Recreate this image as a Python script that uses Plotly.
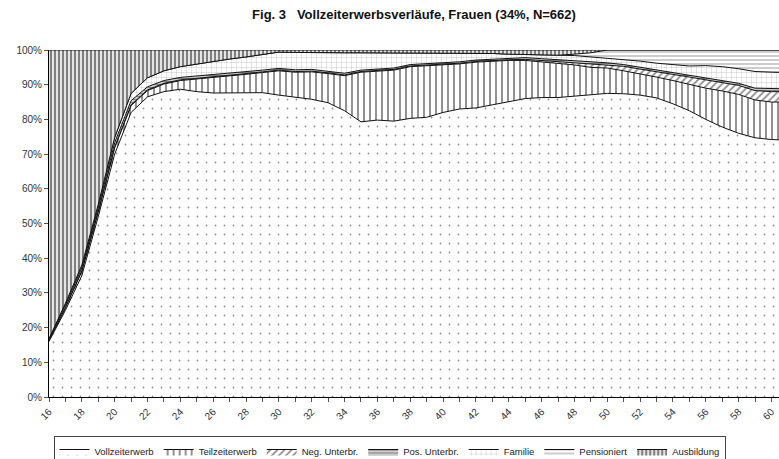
"""
Stacked 100% area chart: full-time employment careers, women.
"""

import plotly.graph_objects as go

ages = list(range(16, 62))

vollzeit = [16, 25, 35, 52, 70, 82, 86.5, 88, 88.7, 88, 87.6, 87.7, 87.6, 87.7, 87, 86.5,
            85.8, 84.8, 82.5, 79.3, 79.8, 79.5, 80.3, 80.6, 82, 83, 83.3, 84.2, 85.2, 86,
            86.3, 86.3, 86.7, 87.2, 87.5, 87.4, 87, 86.2, 84.5, 82.5, 80, 77.8, 76, 74.7,
            74.2, 74]
teilzeit = [0.3, 0.7, 1.2, 1.3, 1.8, 2.0, 1.8, 2.2, 2.5, 3.6, 4.4, 4.8, 5.4, 5.8, 7.0, 7.1,
            7.9, 8.4, 10.1, 14.3, 14.2, 14.7, 14.9, 14.9, 13.6, 13.0, 13.2, 12.6, 11.8, 11.0,
            10.3, 9.7, 9.0, 7.8, 7.3, 6.6, 6.2, 6.0, 6.7, 7.5, 9.0, 10.4, 11.2, 10.9, 10.8, 11.0]
neg_unterbr = [0, 0.1, 0.2, 0.2, 0.2, 0.2, 0.2, 0.2, 0.2, 0.2, 0.2, 0.2, 0.2, 0.2, 0.2, 0.2,
               0.2, 0.2, 0.2, 0.2, 0.2, 0.2, 0.2, 0.2, 0.2, 0.2, 0.2, 0.2, 0.2, 0.3,
               0.4, 0.6, 0.7, 0.9, 1.0, 1.3, 1.3, 1.6, 1.8, 2.2, 2.4, 2.5, 2.6, 2.7, 3.0, 3.0]
pos_unterbr = [0.3, 0.7, 0.8, 1.0, 1.3, 1.2, 0.9, 0.8, 0.7, 0.7, 0.6, 0.5, 0.5, 0.5, 0.5, 0.5,
               0.5, 0.5, 0.5, 0.4, 0.4, 0.4, 0.4, 0.4, 0.4, 0.4, 0.4, 0.4, 0.4, 0.5,
               0.5, 0.6, 0.6, 0.6, 0.5, 0.5, 0.5, 0.5, 0.5, 0.5, 0.5, 0.5, 0.6, 0.7, 0.8, 0.8]
familie = [0.2, 0.5, 0.8, 1.0, 1.5, 2.1, 2.6, 2.8, 3.1, 3.5, 4.0, 4.2, 4.3, 4.6, 4.7, 5.0,
           4.8, 5.3, 5.9, 5.0, 4.6, 4.4, 3.4, 3.1, 3.0, 2.5, 1.9, 1.6, 1.2, 0.9,
           1.1, 1.3, 1.4, 1.5, 1.3, 1.5, 1.8, 1.9, 2.3, 2.7, 3.6, 4.0, 4.2, 4.8, 4.8, 4.7]
pensioniert = [0] * 32 + [0.4, 1.2, 2.4, 2.7, 3.2, 3.8, 4.2, 4.6, 4.5, 4.8, 5.4, 6.2, 6.4, 6.5]
ausbildung = [83.2, 73, 62, 44.5, 25.2, 12.5, 8, 6, 4.8, 4, 3.2, 2.6, 2, 1.2, 0.6, 0.7,
              0.8, 0.8, 0.8, 0.8, 0.8, 0.8, 0.8, 0.8, 0.8, 0.9, 1.0, 1.0, 1.2, 1.3,
              1.4, 1.5, 1.2, 0.8, 0, 0, 0, 0, 0, 0, 0, 0, 0, 0, 0, 0]

tick_ages = list(range(16, 61))
tick_text = [str(a) if a % 2 == 0 else "" for a in tick_ages]

FONT = "Liberation Sans, Arial, sans-serif"

series = [
    ("Vollzeiterwerb", vollzeit, dict(shape=".", fgcolor="#222", bgcolor="white", size=9, solidity=0.03)),
    ("Teilzeiterwerb", teilzeit, dict(shape="|", fgcolor="#222", bgcolor="white", size=6, solidity=0.33)),
    ("Neg. Unterbr.", neg_unterbr, dict(shape="/", fgcolor="#222", bgcolor="white", size=5, solidity=0.35)),
    ("Pos. Unterbr.", pos_unterbr, dict(shape="-", fgcolor="black", bgcolor="white", size=3, solidity=0.6)),
    ("Familie", familie, dict(shape="+", fgcolor="#555", bgcolor="white", size=5, solidity=0.12)),
    ("Pensioniert", pensioniert, dict(shape="-", fgcolor="#333", bgcolor="white", size=4, solidity=0.25)),
    ("Ausbildung", ausbildung, dict(shape="|", fgcolor="black", bgcolor="white", size=4, solidity=0.6)),
]

fig = go.Figure()
for name, vals, pattern in series:
    fig.add_trace(
        go.Scatter(
            x=ages,
            y=vals,
            name=name,
            mode="lines",
            stackgroup="one",
            groupnorm="percent" if name == "Vollzeiterwerb" else None,
            line=dict(color="#111", width=1),
            fillcolor="white",
            fillpattern=pattern,
        )
    )

fig.update_layout(
    width=779,
    height=459,
    paper_bgcolor="white",
    plot_bgcolor="white",
    margin=dict(l=49, r=0, t=50, b=62, autoexpand=False),
    font=dict(family=FONT, size=10, color="#333"),
    title=dict(
        text="<b>Fig. 3   Vollzeiterwerbsverläufe, Frauen (34%, N=662)</b>",
        x=0.5, xref="paper", xanchor="center",
        y=1 - 14 / 459, yanchor="middle",
        font=dict(family="Liberation Sans Narrow, Arial Narrow, Liberation Sans, Arial", size=13, color="#111"),
    ),
    showlegend=True,
    legend=dict(
        orientation="h",
        xref="container", yref="container",
        x=0.5, xanchor="center",
        y=1 - 436 / 459, yanchor="top",
        bordercolor="#444", borderwidth=1,
        font=dict(size=9.5, color="#222"),
        itemwidth=30,
        traceorder="normal",
    ),
    xaxis=dict(
        range=[16, 60.46],
        tickmode="array",
        tickvals=tick_ages,
        ticktext=tick_text,
        tickangle=-45,
        ticks="outside",
        ticklen=4,
        tickcolor="#555",
        showline=True,
        linecolor="black",
        linewidth=1,
        showgrid=False,
        zeroline=False,
        automargin=False,
    ),
    yaxis=dict(
        range=[0, 100],
        dtick=10,
        ticksuffix="%",
        ticks="outside",
        ticklen=4,
        tickcolor="#555",
        showline=True,
        linecolor="black",
        linewidth=1,
        showgrid=False,
        zeroline=False,
        automargin=False,
    ),
)

# the page body has a default 8px margin; drop it so the figure sits at 0,0
fig.write_html(
    "out.html",
    config={"displayModeBar": False},
    post_script="document.body.style.margin='0';",
)
